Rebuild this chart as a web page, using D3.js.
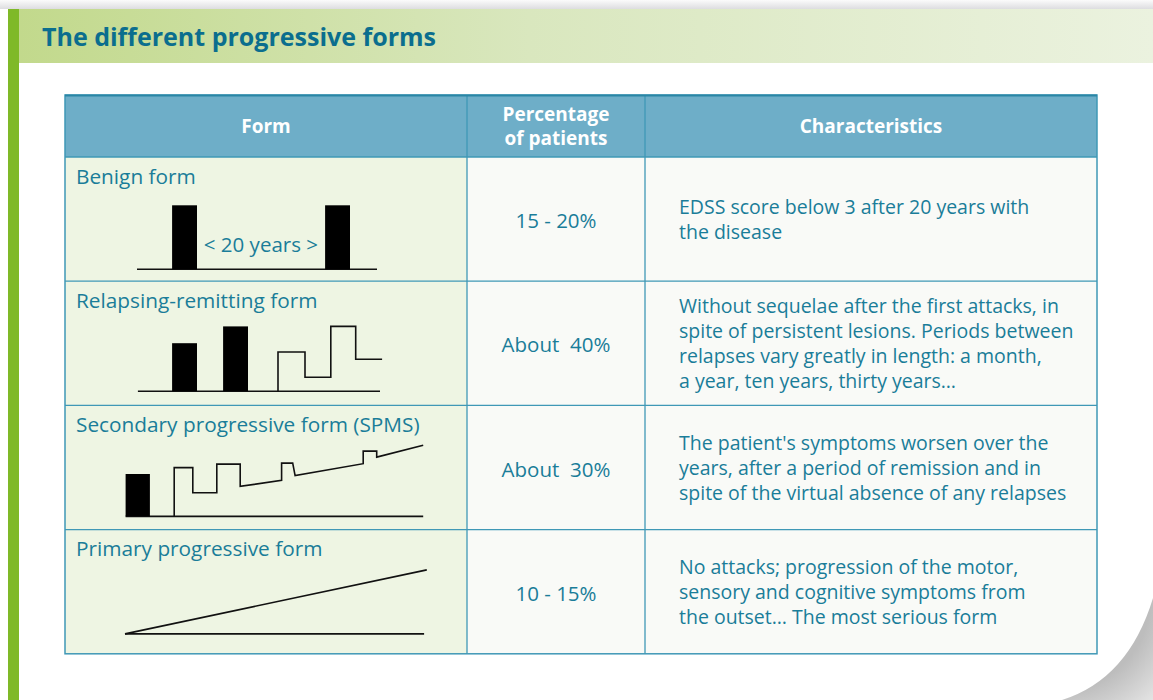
<!DOCTYPE html>
<meta charset="utf-8">
<body style="margin:0;background:#fff">
<style>
  text { font-family: "Open Sans", sans-serif; }
  .title { fill: #0b6e8e; font-weight: bold; font-size: 25px; }
  .head { fill: #fff; font-weight: bold; font-size: 19px; text-anchor: middle; }
  .cell { fill: #1a7d99; font-size: 19.5px; white-space: pre; }
  .pct { fill: #1a7d99; font-size: 20.5px; white-space: pre; }
  .formname { fill: #1a7d99; font-size: 20.8px; }
</style>
<svg width="1153" height="700"></svg>
<script src="https://d3js.org/d3.v7.min.js"></script>
<script>

// ---- data ----
var headers = [["Form"], ["Percentage", "of patients"], ["Characteristics"]];
var forms = ["Benign form", "Relapsing-remitting form", "Secondary progressive form (SPMS)", "Primary progressive form"];
var percentages = ["15 - 20%", "About  40%", "About  30%", "10 - 15%"];
var characteristics = [
  ["EDSS score below 3 after 20 years with", "the disease"],
  ["Without sequelae after the first attacks, in", "spite of persistent lesions. Periods between", "relapses vary greatly in length: a month,", "a year, ten years, thirty years\u2026"],
  ["The patient's symptoms worsen over the", "years, after a period of remission and in", "spite of the virtual absence of any relapses"],
  ["No attacks; progression of the motor,", "sensory and cognitive symptoms from", "the outset\u2026 The most serious form"]
];

// diagrams: time axis 0-100, disability 0-10
var axisExtent = [[4, 84], [4.3, 85], [0.2, 99.4], [0, 99.7]];
var attacks = [
  [{x0: 15.7, x1: 24, h: 8}, {x0: 66.7, x1: 75, h: 8}],
  [{x0: 15.7, x1: 24, h: 6}, {x0: 32.7, x1: 41, h: 8.1}],
  [{x0: 0.2, x1: 8.3, h: 5.3}],
  []
];
var courses = [
  [],
  [[51, 0], [51, 4.9], [60, 4.9], [60, 1.75], [68.6, 1.75], [68.6, 8.1], [76.9, 8.1], [76.9, 4], [85.7, 4]],
  [[16.4, 0], [16.4, 6.1], [22.6, 6.1], [22.6, 2.96], [30.6, 2.96], [30.6, 6.54], [38.4, 6.54], [38.4, 3.75],
   [52.2, 4.5], [52.2, 6.66], [55.9, 6.66], [56.7, 5.1], [79.4, 6.59], [79.4, 8.16], [83.9, 8.16], [83.9, 7.41], [99.4, 8.9]],
  [[0, 0], [100.6, 8]]
];
var gapLabel = {row: 0, text: "< 20 years >", x: 45.3, h: 2.2};

// ---- layout ----
var svg = d3.select("svg");
var W = 1153, H = 700;
var colX = [65, 467, 645, 1097];
var headTop = 95, headBottom = 157, rowH = 124.2;
var baseOffset = [112.3, 110, 111, 104.3];

var defs = svg.append("defs");
var topShade = defs.append("linearGradient").attr("id", "topShade").attr("x1", 0).attr("y1", 0).attr("x2", 0).attr("y2", 1);
topShade.append("stop").attr("offset", 0).attr("stop-color", "#fbfbfb");
topShade.append("stop").attr("offset", 1).attr("stop-color", "#dddde0");
var band = defs.append("linearGradient").attr("id", "band");
band.append("stop").attr("offset", 0).attr("stop-color", "#c2d98c");
band.append("stop").attr("offset", 0.45).attr("stop-color", "#d9e7be");
band.append("stop").attr("offset", 1).attr("stop-color", "#ebf2df");
var curl = defs.append("radialGradient").attr("id", "curl")
    .attr("gradientUnits", "userSpaceOnUse").attr("cx", 1060).attr("cy", 600).attr("r", 150);
curl.append("stop").attr("offset", 0.6).attr("stop-color", "#bdbdbd");
curl.append("stop").attr("offset", 1).attr("stop-color", "#efefef");

// page decorations
svg.append("rect").attr("width", W).attr("height", 9).attr("fill", "url(#topShade)");
svg.append("rect").attr("x", 19).attr("y", 9).attr("width", W - 19).attr("height", 54).attr("fill", "url(#band)");
svg.append("rect").attr("x", 8).attr("y", 9).attr("width", 11).attr("height", H - 9).attr("fill", "#7fb928");
svg.append("text").attr("class", "title").attr("x", 42).attr("y", 46).text("The different progressive forms");
svg.append("path")
    .attr("d", "M1153,598 Q1128.5,679 1062,700 L1153,700 Z")
    .attr("fill", "url(#curl)");

// ---- table ----
var rowY = d3.range(forms.length).map(function (i) { return headBottom + i * rowH; });
var tableBottom = headBottom + forms.length * rowH;

// header
svg.append("rect").attr("x", colX[0]).attr("y", headTop).attr("width", colX[3] - colX[0]).attr("height", headBottom - headTop)
    .attr("fill", "#6eaec8");
headers.forEach(function (lines, c) {
  var cx = (colX[c] + colX[c + 1]) / 2;
  var t = svg.append("text").attr("class", "head").attr("x", cx).attr("y", (headTop + headBottom) / 2 + 7 - (lines.length - 1) * 12);
  lines.forEach(function (l, k) {
    t.append("tspan").attr("x", cx).attr("dy", k ? 24 : 0).text(l);
  });
});

// body rows
forms.forEach(function (name, i) {
  var y0 = rowY[i], mid = y0 + rowH / 2;
  svg.append("rect").attr("x", colX[0]).attr("y", y0).attr("width", colX[1] - colX[0]).attr("height", rowH).attr("fill", "#eef5e3");
  svg.append("rect").attr("x", colX[1]).attr("y", y0).attr("width", colX[3] - colX[1]).attr("height", rowH).attr("fill", "#f9faf7");

  svg.append("text").attr("class", "formname").attr("x", 76).attr("y", y0 + 26.5).text(name);
  svg.append("text").attr("class", "pct").attr("x", (colX[1] + colX[2]) / 2).attr("y", mid + 9)
      .attr("text-anchor", "middle").text(percentages[i]);

  var lines = characteristics[i];
  var t = svg.append("text").attr("class", "cell").attr("y", mid + 7 - (lines.length - 1) * 12.5);
  lines.forEach(function (l, k) {
    t.append("tspan").attr("x", 679).attr("dy", k ? 25 : 0).text(l);
  });

  // diagram
  var base = y0 + baseOffset[i];
  var x = d3.scaleLinear().domain([0, 100]).range([125, 425]);
  var y = d3.scaleLinear().domain([0, 10]).range([base, base - 80]);
  var g = svg.append("g");
  g.append("line").attr("x1", x(axisExtent[i][0])).attr("x2", x(axisExtent[i][1]))
      .attr("y1", y(0)).attr("y2", y(0)).attr("stroke", "#111").attr("stroke-width", 1.6);
  g.selectAll("rect").data(attacks[i]).enter().append("rect")
      .attr("x", function (d) { return x(d.x0); })
      .attr("width", function (d) { return x(d.x1) - x(d.x0); })
      .attr("y", function (d) { return y(d.h); })
      .attr("height", function (d) { return y(0) - y(d.h); })
      .attr("fill", "#000");
  if (courses[i].length) {
    g.append("path").datum(courses[i])
        .attr("d", d3.line().x(function (d) { return x(d[0]); }).y(function (d) { return y(d[1]); }))
        .attr("fill", "none").attr("stroke", "#111").attr("stroke-width", 1.6);
  }
  if (gapLabel.row === i) {
    g.append("text").attr("class", "pct").attr("x", x(gapLabel.x)).attr("y", y(gapLabel.h))
        .attr("text-anchor", "middle").text(gapLabel.text);
  }
});

// grid lines
var grid = svg.append("g").attr("stroke", "#3f98b6").attr("stroke-width", 1.3).attr("fill", "none");
[colX[1], colX[2]].forEach(function (cx) {
  grid.append("line").attr("x1", cx).attr("x2", cx).attr("y1", headTop).attr("y2", tableBottom);
});
rowY.slice(1).forEach(function (ry) {
  grid.append("line").attr("x1", colX[0]).attr("x2", colX[3]).attr("y1", ry).attr("y2", ry);
});
grid.append("line").attr("x1", colX[0]).attr("x2", colX[3]).attr("y1", headBottom).attr("y2", headBottom);
grid.append("rect").attr("x", colX[0]).attr("y", headTop).attr("width", colX[3] - colX[0]).attr("height", tableBottom - headTop)
    .attr("stroke-width", 1.5);
svg.append("line").attr("x1", colX[0]).attr("x2", colX[3]).attr("y1", headTop + 0.5).attr("y2", headTop + 0.5)
    .attr("stroke", "#2a86a5").attr("stroke-width", 2);

</script>
</body>
